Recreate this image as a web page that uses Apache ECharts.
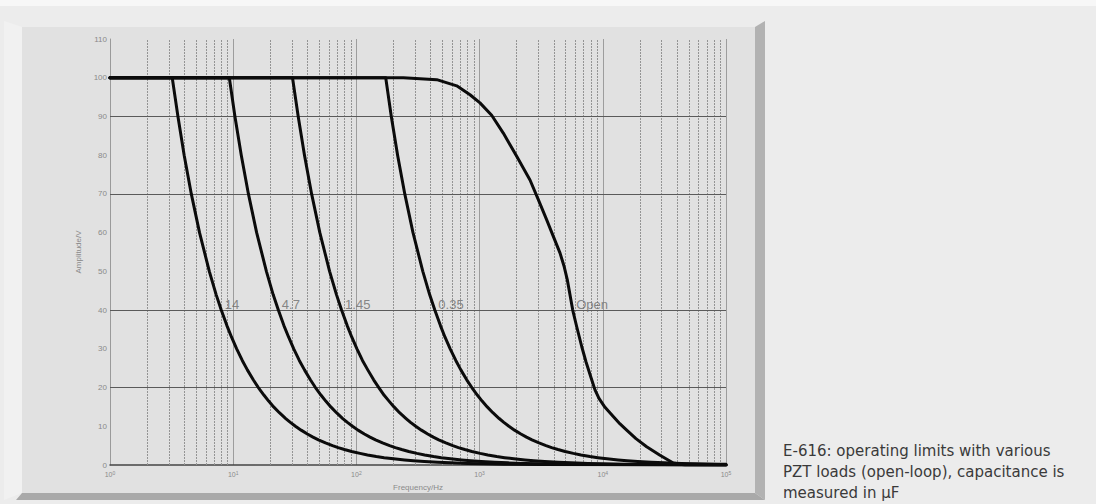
<!DOCTYPE html>
<html>
<head>
<meta charset="utf-8">
<script src="https://cdn.jsdelivr.net/npm/echarts@6/dist/echarts.min.js"></script>
<style>
  html, body { margin: 0; padding: 0; background: #ececec; }
  #chart { width: 1096px; height: 504px; }
</style>
</head>
<body>
<div id="chart"></div>
<script>
// E-616 output amplitude (V) versus frequency (Hz) for each PZT load, pairs are [Hz, V]
const load14 = [[1,100],[3.2,100],[3.56,90],[4,80],[4.57,70],[5.33,60],[6.4,50],[7.27,44],[8,40],[8.89,36],[9.7,33],[10.67,30],[11.85,27],[13.06,24.5],[14.55,22],[16,20],[17.8,18],[19.4,16.5],[21.3,15],[23.7,13.5],[26.7,12],[29.1,11],[32,10],[35.6,9],[40,8],[44.4,7.2],[49.2,6.5],[56.1,5.7],[64,5],[71.1,4.5],[80,4],[91.4,3.5],[107,3],[123,2.6],[145,2.2],[168,1.9],[200,1.6],[246,1.3],[291,1.1],[356,0.9],[457,0.7],[582,0.55],[800,0.4],[1067,0.3],[1600,0.2],[3200,0.1],[100000,0]];
const load4_7 = [[1,100],[9.3,100],[10.33,90],[11.63,80],[13.29,70],[15.5,60],[18.6,50],[21.1,44],[23.25,40],[25.8,36],[28.2,33],[31,30],[34.4,27],[38,24.5],[42.3,22],[46.5,20],[51.7,18],[56.4,16.5],[62,15],[68.9,13.5],[77.5,12],[84.5,11],[93,10],[103,9],[116,8],[129,7.2],[143,6.5],[163,5.7],[186,5],[207,4.5],[233,4],[266,3.5],[310,3],[358,2.6],[423,2.2],[489,1.9],[581,1.6],[715,1.3],[845,1.1],[1033,0.9],[1329,0.7],[1691,0.55],[2325,0.4],[3100,0.3],[4650,0.2],[9300,0.1],[100000,0]];
const load1_45 = [[1,100],[30.3,100],[33.7,90],[37.9,80],[43.3,70],[50.5,60],[60.6,50],[68.9,44],[75.8,40],[84.2,36],[91.8,33],[101,30],[112,27],[124,24.5],[138,22],[152,20],[168,18],[184,16.5],[202,15],[224,13.5],[253,12],[275,11],[303,10],[337,9],[379,8],[421,7.2],[466,6.5],[532,5.7],[606,5],[673,4.5],[758,4],[866,3.5],[1010,3],[1165,2.6],[1377,2.2],[1595,1.9],[1894,1.6],[2331,1.3],[2755,1.1],[3367,0.9],[4329,0.7],[5509,0.55],[7575,0.4],[10100,0.3],[15150,0.2],[30300,0.1],[100000,0.03]];
const load0_35 = [[1,100],[173,100],[192,90],[216,80],[247,70],[288,60],[346,50],[393,44],[433,40],[481,36],[524,33],[577,30],[641,27],[706,24.5],[786,22],[865,20],[961,18],[1048,16.5],[1153,15],[1281,13.5],[1442,12],[1573,11],[1730,10],[1922,9],[2163,8],[2403,7.2],[2662,6.5],[3035,5.7],[3460,5],[3844,4.5],[4325,4],[4943,3.5],[5767,3],[6654,2.6],[7864,2.2],[9105,1.9],[10810,1.6],[13310,1.3],[15730,1.1],[19220,0.9],[24710,0.7],[31450,0.55],[43250,0.4],[57670,0.3],[86500,0.2],[100000,0.17]];
const loadOpen = [[1,100],[150,100],[240,100],[449,99.5],[652,97.9],[836,95.6],[1007,93.5],[1253,90.3],[1557,85.7],[2000,79.7],[2565,73.6],[2979,68.7],[3505,63.3],[3981,58.9],[4498,54.7],[4842,51.4],[5152,47.8],[5700,40],[6142,35.7],[6742,30.6],[7311,26.6],[8128,22],[8643,19.4],[9311,17.2],[10420,14.9],[12160,12.5],[13800,10.6],[15630,9],[18580,6.8],[22700,4.7],[29110,2.5],[37330,0.5],[46450,0],[100000,0]];

// Curve names (capacitance in µF) written beside each curve at the 40 V level
const loadNames = ['14', '4.7', '1.45', '0.35', 'Open'];
const loadCurves = [load14, load4_7, load1_45, load0_35, loadOpen];
const labelLevel = 40;

// Axis ranges and grid
const freqExponents = [0, 1, 2, 3, 4, 5];
const minorMultipliers = [2, 3, 4, 5, 6, 7, 8, 9];
const amplitudeRange = [0, 110, 10];
const amplitudeGridLevels = [20, 40, 70, 90];

const captionLines = [
  'E-616: operating limits with various',
  'PZT loads (open-loop), capacitance is',
  'measured in µF'
];

const chart = echarts.init(document.getElementById('chart'), null, { renderer: 'svg' });

const minorFreqs = [];
freqExponents.slice(0, -1).forEach(e => {
  minorMultipliers.forEach(m => minorFreqs.push(m * Math.pow(10, e)));
});

const curveSeries = loadCurves.map((data, i) => ({
  name: loadNames[i],
  type: 'line',
  data: data,
  showSymbol: false,
  symbol: 'none',
  z: 3,
  lineStyle: { color: '#0b0b0b', width: 3, cap: 'round', join: 'round' },
  emphasis: { disabled: true },
  animation: false
}));

const labelSeries = {
  type: 'scatter',
  z: 4,
  symbolSize: 1,
  itemStyle: { color: 'rgba(0,0,0,0)' },
  silent: true,
  data: loadCurves.map((data, i) => {
    const p = data.find(d => d[1] === labelLevel);
    return { value: [p[0], p[1]], name: loadNames[i] };
  }),
  label: {
    show: true,
    position: 'right',
    distance: 3,
    offset: [0, -6],
    formatter: p => p.name,
    fontFamily: 'Liberation Sans',
    fontSize: 13,
    color: '#6c6c6c'
  },
  animation: false
};

const gridSeries = {
  type: 'line',
  data: [],
  silent: true,
  markLine: {
    silent: true,
    z: 1,
    symbol: ['none', 'none'],
    label: { show: false },
    animation: false,
    data: [
      ...minorFreqs.map(f => ({ xAxis: f, lineStyle: { color: '#949494', width: 1, type: [2, 1] } })),
      ...amplitudeGridLevels.map(v => ({ yAxis: v, lineStyle: { color: '#5a5a5a', width: 1, type: 'solid' } }))
    ]
  }
};

const [ax0, ax1, axStep] = amplitudeRange;

chart.setOption({
  animation: false,
  backgroundColor: '#ececec',
  textStyle: { fontFamily: 'Liberation Sans' },
  graphic: {
    elements: [
      { type: 'rect', z: -20, shape: { x: 0, y: 0, width: 1096, height: 6 }, style: { fill: '#f7f7f7' }, silent: true },
      { type: 'polygon', z: -20, shape: { points: [[4, 21], [22, 27], [22, 493], [4, 500]] }, style: { fill: '#f1f1f1' }, silent: true },
      { type: 'polygon', z: -20, shape: { points: [[755, 27], [765, 21], [765, 500], [755, 493]] }, style: { fill: '#b2b2b2' }, silent: true },
      { type: 'polygon', z: -20, shape: { points: [[22, 493], [755, 493], [765, 500], [16, 500]] }, style: { fill: '#a9a9a9' }, silent: true },
      { type: 'rect', z: -20, shape: { x: 22, y: 27, width: 733, height: 466 }, style: { fill: '#e1e1e1' }, silent: true },
      {
        type: 'text', z: 10, left: 783, top: 440, silent: true,
        style: {
          text: captionLines.join('\n'),
          fontFamily: 'DejaVu Sans',
          fontSize: 15,
          lineHeight: 21,
          fill: '#3a3a3a'
        }
      }
    ]
  },
  grid: { left: 110, right: 370, top: 39, bottom: 39, containLabel: false, outerBoundsMode: 'none' },
  xAxis: {
    type: 'log',
    logBase: 10,
    min: Math.pow(10, freqExponents[0]),
    max: Math.pow(10, freqExponents[freqExponents.length - 1]),
    splitNumber: freqExponents.length - 1,
    name: 'Frequency/Hz',
    nameLocation: 'middle',
    nameGap: 18,
    nameTextStyle: { fontSize: 8, color: '#8a8a8a' },
    axisLine: { show: true, lineStyle: { color: '#444', width: 1.5 } },
    axisTick: { show: false },
    splitLine: { show: true, lineStyle: { color: '#9d9d9d', width: 1 } },
    axisLabel: {
      margin: 5,
      formatter: v => '{b|10}{s|' + Math.round(Math.log10(v)) + '}',
      rich: {
        b: { fontSize: 7, color: '#8a8a8a', lineHeight: 9 },
        s: { fontSize: 5, color: '#8a8a8a', lineHeight: 9, verticalAlign: 'top' }
      }
    }
  },
  yAxis: {
    type: 'value',
    min: ax0,
    max: ax1,
    interval: axStep,
    name: 'Amplitude/V',
    nameLocation: 'middle',
    nameGap: 28,
    nameTextStyle: { fontSize: 8, color: '#8a8a8a' },
    axisLine: { show: true, lineStyle: { color: '#9a9a9a', width: 1 } },
    axisTick: { show: false },
    splitLine: { show: false },
    axisLabel: { margin: 3, fontSize: 8, color: '#8a8a8a' }
  },
  series: [gridSeries, ...curveSeries, labelSeries]
});
</script>
</body>
</html>
